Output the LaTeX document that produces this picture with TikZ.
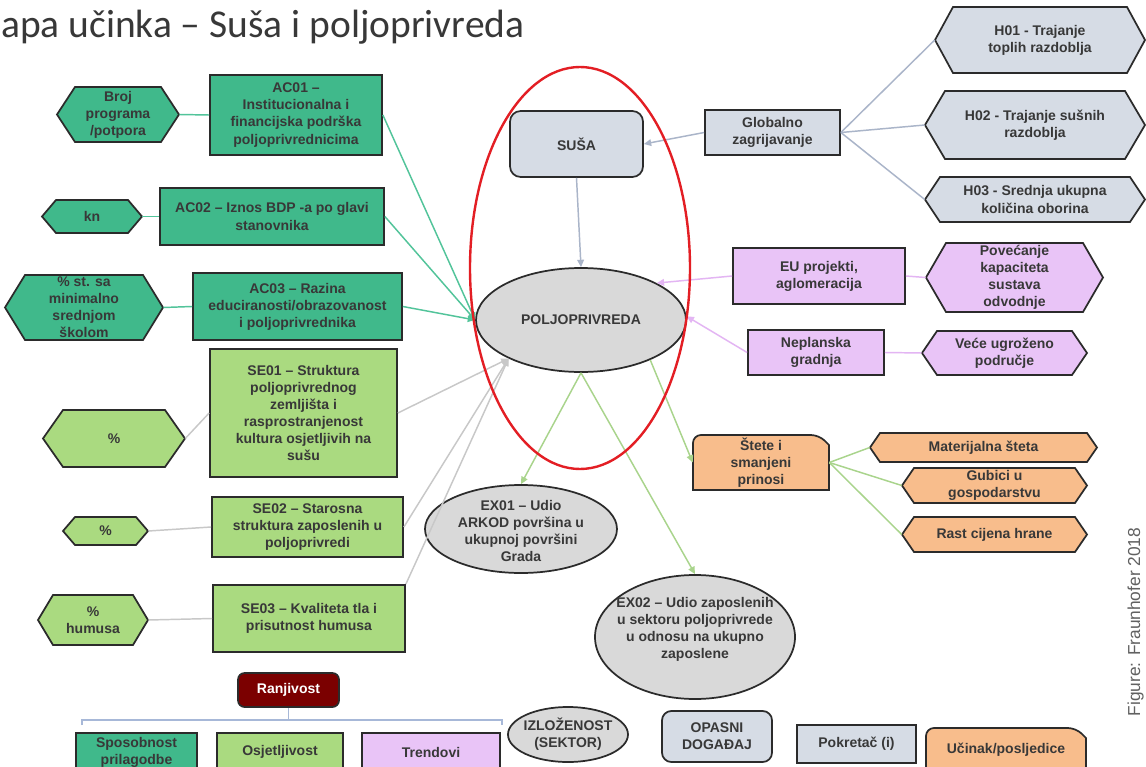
\documentclass[tikz,border=0pt]{standalone}
\usepackage{fontspec}
\setmainfont{Liberation Sans}
\newfontfamily\titlefont{Carlito}
\usetikzlibrary{shapes.geometric,arrows.meta,calc}
\definecolor{acg}{HTML}{40B98B}
\definecolor{seg}{HTML}{AADA80}
\definecolor{puf}{HTML}{E9C4F7}
\definecolor{gbf}{HTML}{D6DCE5}
\definecolor{grf}{HTML}{D9D9D9}
\definecolor{orf}{HTML}{F8BD8C}
\definecolor{drk}{HTML}{7B0000}
\definecolor{ringred}{HTML}{E31E24}
\definecolor{edge}{HTML}{2B2B2B}
\definecolor{txt}{HTML}{383838}
\definecolor{cacc}{HTML}{52C49A}
\definecolor{csec}{HTML}{C8C8C8}
\definecolor{cgbc}{HTML}{AAB5C9}
\definecolor{cpuc}{HTML}{E3B5F3}
\definecolor{clgc}{HTML}{A9D48C}
\definecolor{brkc}{HTML}{A7B8D8}
\tikzset{
  sz/.style 2 args={minimum width=#1*0.75pt, minimum height=#2*0.75pt},
  lbl/.style={font=\bfseries\fontsize{10.5}{12.8}\selectfont, text=txt, align=center, inner sep=1pt},
  bx/.style={lbl, draw=edge, line width=1.3pt},
  acbox/.style={bx, fill=acg},
  sebox/.style={bx, fill=seg},
  pubox/.style={bx, fill=puf},
  gbbox/.style={bx, fill=gbf},
  shp/.style={draw=edge, line width=1.3pt},
  ell/.style={ellipse, shp, inner sep=0pt},
  arr/.style={-{Triangle[length=5.5pt,width=5pt]}},
  cac/.style={draw=cacc, line width=1.1pt},
  cse/.style={draw=csec, line width=1.1pt},
  cgb/.style={draw=cgbc, line width=1.1pt},
  cpu/.style={draw=cpuc, line width=1.1pt},
  clg/.style={draw=clgc, line width=1.1pt},
  brk/.style={draw=brkc, line width=1pt},
  ring/.style={ellipse, draw=ringred, line width=1.8pt, inner sep=0pt},
}
% hexagon: name, x, y, w, h, depth, fill, text
\newcommand\HexNode[8]{%
  \filldraw[shp, fill=#7] ({#2-(#4)/2},{#3}) -- ({#2-(#4)/2+(#6)},{#3-(#5)/2}) -- ({#2+(#4)/2-(#6)},{#3-(#5)/2}) -- ({#2+(#4)/2},{#3}) -- ({#2+(#4)/2-(#6)},{#3+(#5)/2}) -- ({#2-(#4)/2+(#6)},{#3+(#5)/2}) -- cycle;
  \node[lbl, sz={#4}{#5}] (#1) at (#2,#3) {#8};
}
% box with rounded top-left and snipped top-right: name, x, y, w, h, fill, text
\newcommand\SnipNode[7]{%
  \filldraw[shp, fill=#6] ({#2-(#4)/2},{#3+(#5)/2}) [rounded corners=6pt] -- ({#2-(#4)/2},{#3-(#5)/2}) -- ({#2+(#4)/2-10},{#3-(#5)/2}) [sharp corners] -- ({#2+(#4)/2},{#3-(#5)/2+10}) -- ({#2+(#4)/2},{#3+(#5)/2}) -- cycle;
  \node[lbl, sz={#4}{#5}] (#1) at (#2,#3) {#7};
}
\begin{document}
\begin{tikzpicture}[x=0.75pt,y=-0.75pt]
\useasboundingbox (0,0) rectangle (1146,767);
\fill[white] (0,0) rectangle (1146,767);

% title
\node[anchor=base west, inner sep=0pt, text=black!78, font=\titlefont\fontsize{29.6}{34}\selectfont] (title) at (1,38) {apa učinka – Suša i poljoprivreda};

% ---------- left: adaptive capacity ----------
\HexNode{hbroj}{118}{114.5}{122}{55}{18}{acg}{Broj\\programa\\/potpora}
\node[acbox, sz={172}{80}] (ac1) at (296,115) {AC01 –\\Institucionalna i\\financijska podrška\\poljoprivrednicima};
\HexNode{hkn}{92}{216.5}{100}{33}{14}{acg}{kn}
\node[acbox, sz={224}{57}] (ac2) at (272,216.5) {AC02 – Iznos BDP -a po glavi\\stanovnika};
\HexNode{hst}{84}{307.5}{158}{65}{20}{acg}{\% st. sa\\minimalno\\srednjom\\školom}
\node[acbox, sz={209}{67}] (ac3) at (297.5,306.5) {AC03 – Razina\\educiranosti/obrazovanost\\i poljoprivrednika};

% ---------- left: sensitivity ----------
\node[sebox, sz={187}{128}] (se1) at (303.5,413) {SE01 – Struktura\\poljoprivrednog\\zemljišta i\\rasprostranjenost\\kultura osjetljivih na\\sušu};
\HexNode{hp1}{114}{438.5}{142}{57}{20}{seg}{\%}
\node[sebox, sz={191}{60}] (se2) at (307.5,527) {SE02 – Starosna\\struktura zaposlenih u\\poljoprivredi};
\HexNode{hp2}{105.5}{531}{85}{28}{12}{seg}{\%}
\node[sebox, sz={192}{67}] (se3) at (309,618.5) {SE03 – Kvaliteta tla i\\prisutnost humusa};
\HexNode{hhu}{93}{620}{110}{50}{15}{seg}{\%\\humusa}

% ---------- centre ----------
\node[gbbox, rounded corners=8pt, sz={133}{66}] (susa) at (576.5,144) {SUŠA};
\node[ell, fill=grf, sz={210}{104}] (polj) at (581,320) {};
\node[lbl] (poljt) at (polj.center) {POLJOPRIVREDA};
\node[ell, fill=grf, sz={192}{88}] (ex1) at (521,529) {};
\node[lbl] (ex1t) at (521,531) {EX01 – Udio\\ARKOD površina u\\ukupnoj površini\\Grada};
\node[ell, fill=grf, sz={200}{124}] (ex2) at (695,637) {};
\node[lbl] (ex2t) at (695,629) {EX02 – Udio zaposlenih\\u sektoru poljoprivrede\\u odnosu na ukupno\\zaposlene};

% ---------- right ----------
\node[gbbox, sz={135}{45}] (glob) at (772.5,132.5) {Globalno\\zagrijavanje};
\HexNode{h1}{1040}{40}{210}{66}{18}{gbf}{H01 - Trajanje\\toplih razdoblja}
\HexNode{h2}{1035}{125}{220}{68}{20}{gbf}{H02 - Trajanje sušnih\\razdoblja}
\HexNode{h3}{1035}{199.5}{220}{45}{15}{gbf}{H03 - Srednja ukupna\\količina oborina}
\node[pubox, sz={172}{56}] (eu) at (819,276) {EU projekti,\\aglomeracija};
\HexNode{hpov}{1014.5}{277.5}{177}{69}{20}{puf}{Povećanje\\kapaciteta\\sustava\\odvodnje}
\node[pubox, sz={136}{45}] (nep) at (816,352.5) {Neplanska\\gradnja};
\HexNode{hvec}{1004.5}{353}{165}{44}{15}{puf}{Veće ugroženo\\područje}
\SnipNode{stete}{761}{462.5}{136}{55}{orf}{Štete i\\smanjeni\\prinosi}
\HexNode{hmat}{983.5}{447.5}{227}{29}{10}{orf}{Materijalna šteta}
\HexNode{hgub}{994.5}{485.5}{185}{35}{12}{orf}{Gubici u\\gospodarstvu}
\HexNode{hrast}{994.5}{534.5}{185}{35}{12}{orf}{Rast cijena hrane}

% ---------- connectors ----------
\draw[cac] (hbroj.east) -- (ac1.west);
\draw[cac] (hkn.east) -- (ac2.west);
\draw[cac] (hst.east) -- (ac3.west);
\draw[cac,arr] (ac1.east) -- (polj.west);
\draw[cac,arr] (ac2.east) -- (polj.west);
\draw[cac,arr] (ac3.east) -- (polj.west);
\draw[cse] (hp1.east) -- (se1.west);
\draw[cse] (hp2.east) -- (se2.west);
\draw[cse] (hhu.east) -- (se3.west);
\draw[cse,arr] (se1.east) -- (polj.208);
\draw[cse,arr] (se2.east) -- (polj.208);
\draw[cse,arr] (se3.north east) -- (polj.208);
\draw[cgb,arr] (susa.south) -- (polj.north);
\draw[cgb,arr] (glob.west) -- (susa.east);
\draw[cgb] (glob.east) -- (h1.west);
\draw[cgb] (glob.east) -- (h2.west);
\draw[cgb] (glob.east) -- (h3.west);
\draw[cpu,arr] (eu.west) -- (polj.26);
\draw[cpu,arr] (nep.west) -- (polj.2);
\draw[cpu] (eu.east) -- (hpov.west);
\draw[cpu] (nep.east) -- (hvec.west);
\draw[clg,arr] (polj.south) -- (ex1.north);
\draw[clg,arr] (polj.south) -- (ex2.north);
\draw[clg,arr] (polj.-30) -- (stete.west);
\draw[clg] (stete.east) -- (hmat.west);
\draw[clg] (stete.east) -- (hgub.west);
\draw[clg] (stete.east) -- (hrast.west);

% red ring
\node[ring, sz={220}{402}] (redring) at (580,268) {};

% ---------- legend ----------
\node[bx, fill=drk, text=white, rounded corners=5pt, sz={101}{34}] (ranj) at (288.5,690) {Ranjivost};
\coordinate (bl) at (82,725);
\coordinate (br) at (502,725);
\draw[brk] (bl) -- ++(0,-5) -| (br);
\draw[brk] (ranj.south) -- (ranj.south |- 0,720);
\node[acbox, sz={121}{38}] (lsp) at (136.5,752) {Sposobnost\\prilagodbe};
\node[sebox, sz={126}{38}] (los) at (280,752) {Osjetljivost};
\node[pubox, sz={138}{38}] (ltr) at (431,752) {Trendovi};
\node[ell, fill=grf, sz={120}{55}] (lex) at (568,734.5) {};
\node[lbl] (lext) at (lex.center) {IZLOŽENOST\\(SEKTOR)};
\node[gbbox, rounded corners=7pt, sz={110}{51}] (lop) at (717,736.5) {OPASNI\\DOGAĐAJ};
\node[gbbox, sz={119}{38}] (lpk) at (856.5,744) {Pokretač (i)};
\SnipNode{luc}{1006}{749.5}{160}{43}{orf}{Učinak/posljedice}

% credit
\node[rotate=90, anchor=base, inner sep=0pt, text=black!62, font=\fontsize{13}{15}\selectfont] (credit) at (1140,622) {Figure: Fraunhofer 2018};
\end{tikzpicture}
\end{document}
